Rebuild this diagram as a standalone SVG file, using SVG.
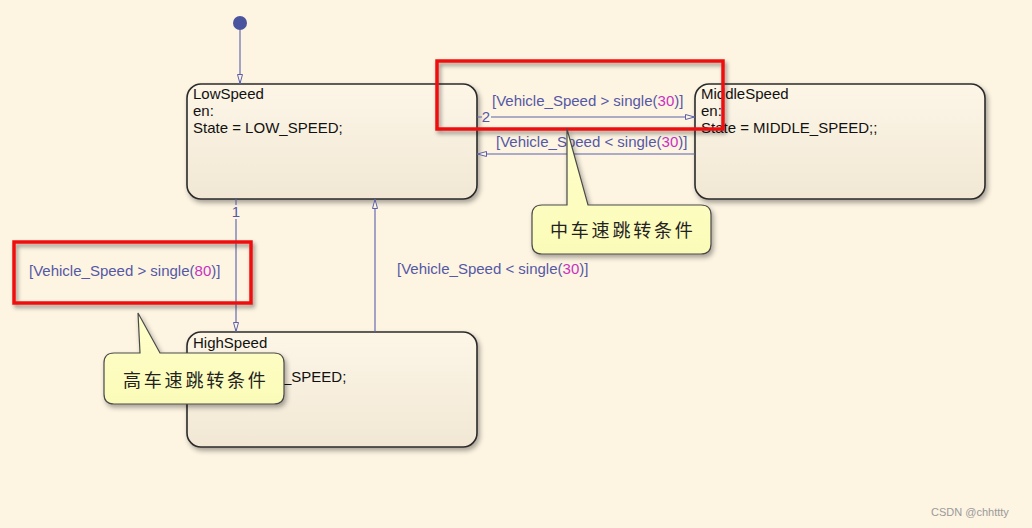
<svg xmlns="http://www.w3.org/2000/svg" width="1032" height="528" viewBox="0 0 1032 528">
<defs>
<linearGradient id="stateGrad" x1="0" y1="0" x2="0" y2="1">
<stop offset="0" stop-color="#fdf6e7"/>
<stop offset="1" stop-color="#f1e7d4"/>
</linearGradient>
<linearGradient id="noteGrad" x1="0" y1="0" x2="0" y2="1">
<stop offset="0" stop-color="#ffffcc"/>
<stop offset="1" stop-color="#fbfbb8"/>
</linearGradient>
<filter id="shadow" x="-10%" y="-10%" width="130%" height="140%">
<feDropShadow dx="2" dy="3" stdDeviation="2.5" flood-color="#000" flood-opacity="0.35"/>
</filter>
<filter id="redShadow" x="-10%" y="-20%" width="130%" height="150%">
<feDropShadow dx="2" dy="3" stdDeviation="2" flood-color="#000" flood-opacity="0.4"/>
</filter>
<marker id="arrow" viewBox="0 0 10 6" refX="10" refY="3" markerWidth="10" markerHeight="6" markerUnits="userSpaceOnUse" orient="auto">
<path d="M0.5,0.5 L9.5,3 L0.5,5.5 Z" fill="#fdf4e2" stroke="#5a60ac" stroke-width="1"/>
</marker>
</defs>
<style>
.state{fill:url(#stateGrad);stroke:#2b2b2b;stroke-width:1.6;filter:url(#shadow)}
.stxt{font-family:"Liberation Sans",Arial,sans-serif;font-size:15px;fill:#111}
.conn{fill:none;stroke:#5a60ac;stroke-width:1.1}
.lbl{font-family:"Liberation Sans",Arial,sans-serif;font-size:15px;fill:#5558a6}
.num{fill:#c832c0}
.red{fill:none;stroke:#f01010;stroke-width:3.5;filter:url(#redShadow)}
.note{fill:url(#noteGrad);stroke:#4a4a4a;stroke-width:1.2;filter:url(#shadow)}
.ntxt{font-family:"Noto Sans CJK SC","Noto Sans CJK TC",sans-serif;font-size:18px;fill:#222;letter-spacing:2.8px}
</style>
<rect width="1032" height="528" fill="#fdf4e2"/>

<g id="initial">
<circle cx="240" cy="23" r="7" fill="#4a539e"/>
</g>

<g id="LowSpeed">
<rect class="state" x="187" y="84" width="290" height="115" rx="14"/>
<text class="stxt" x="193" y="99">LowSpeed</text>
<text class="stxt" x="193" y="116">en:</text>
<text class="stxt" x="193" y="133">State = LOW_SPEED;</text>
</g>

<g id="MiddleSpeed">
<rect class="state" x="695" y="84" width="290" height="115" rx="14"/>
<text class="stxt" x="701" y="99">MiddleSpeed</text>
<text class="stxt" x="701" y="116">en:</text>
<text class="stxt" x="701" y="133">State = MIDDLE_SPEED;;</text>
</g>

<g id="HighSpeed">
<rect class="state" x="187" y="332" width="290" height="115" rx="14"/>
<text class="stxt" x="193" y="348">HighSpeed</text>
<text class="stxt" x="283" y="382">_SPEED;</text>
</g>

<g id="connectors">
<path class="conn" d="M240,30 V84" marker-end="url(#arrow)"/>
<path class="conn" d="M477,117 H482 M491,117 H695" marker-end="url(#arrow)"/>
<text class="lbl" x="486" y="122" text-anchor="middle">2</text>
<text class="lbl" x="492" y="106">[Vehicle_Speed &gt; single(<tspan class="num">30</tspan>)]</text>
<path class="conn" d="M695,154 H477" marker-end="url(#arrow)"/>
<text class="lbl" x="496" y="147">[Vehicle_Speed &lt; single(<tspan class="num">30</tspan>)]</text>
<path class="conn" d="M236,199 V205 M236,219 V332" marker-end="url(#arrow)"/>
<text class="lbl" x="236" y="217" text-anchor="middle">1</text>
<text class="lbl" x="29" y="276">[Vehicle_Speed &gt; single(<tspan class="num">80</tspan>)]</text>
<path class="conn" d="M375,332 V199" marker-end="url(#arrow)"/>
<text class="lbl" x="397" y="274">[Vehicle_Speed &lt; single(<tspan class="num">30</tspan>)]</text>
</g>

<g id="highlight1">
<rect class="red" x="437" y="61" width="286" height="68"/>
</g>
<g id="highlight2">
<rect class="red" x="14" y="242" width="237" height="61"/>
</g>

<g id="note1">
<path class="note" d="M542,205 H567 L567,129 L588,205 H701 Q711,205 711,215 V244 Q711,254 701,254 H542 Q532,254 532,244 V215 Q532,205 542,205 Z"/>
<text class="ntxt" x="550" y="237">中车速跳转条件</text>
</g>

<g id="note2">
<path class="note" d="M114,353 H140 L138,313 L160,353 H274 Q284,353 284,363 V394 Q284,404 274,404 H114 Q104,404 104,394 V363 Q104,353 114,353 Z"/>
<text class="ntxt" x="123" y="387">高车速跳转条件</text>
</g>

<text x="931" y="516" font-family="Liberation Sans, Arial, sans-serif" font-size="11" fill="#9a9a9a">CSDN @chhttty</text>
</svg>
